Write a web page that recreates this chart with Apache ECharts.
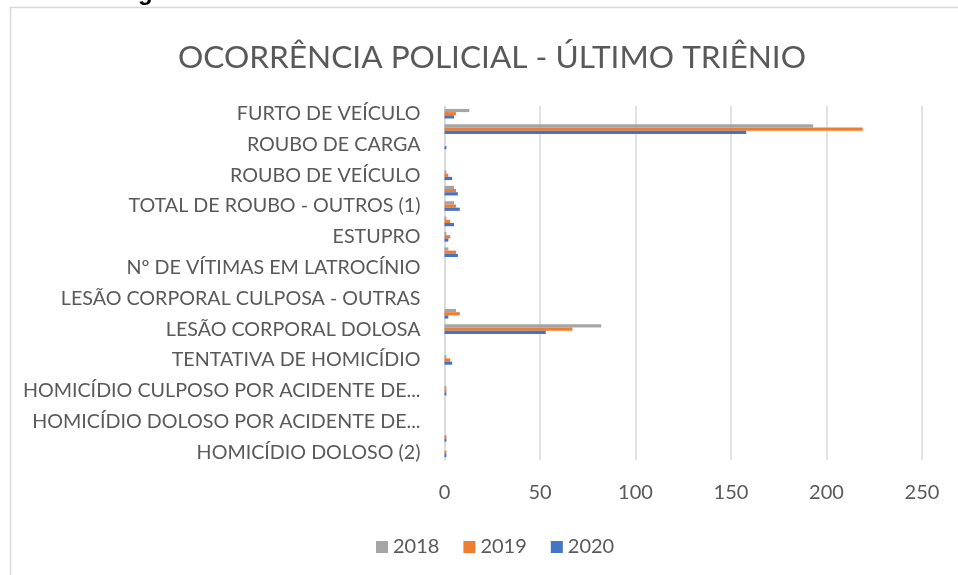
<!DOCTYPE html>
<html><head><meta charset="utf-8">
<script src="https://cdn.jsdelivr.net/npm/echarts@6/dist/echarts.min.js"></script>
<style>html,body{margin:0;padding:0;background:#fff}#c{width:958px;height:575px}</style>
</head><body><div id="c"></div>
<script>
const categories = [
  "HOMICÍDIO DOLOSO (2)",
  "Nº DE VÍTIMAS EM HOMICÍDIO DOLOSO (3)",
  "HOMICÍDIO DOLOSO POR ACIDENTE DE TRÂNSITO",
  "Nº DE VÍTIMAS EM HOMICÍDIO DOLOSO POR ACIDENTE DE TRÂNSITO",
  "HOMICÍDIO CULPOSO POR ACIDENTE DE TRÂNSITO",
  "HOMICÍDIO CULPOSO OUTROS",
  "TENTATIVA DE HOMICÍDIO",
  "LESÃO CORPORAL SEGUIDA DE MORTE",
  "LESÃO CORPORAL DOLOSA",
  "LESÃO CORPORAL CULPOSA POR ACIDENTE DE TRÂNSITO",
  "LESÃO CORPORAL CULPOSA - OUTRAS",
  "LATROCÍNIO",
  "Nº DE VÍTIMAS EM LATROCÍNIO",
  "TOTAL DE ESTUPRO (4)",
  "ESTUPRO",
  "ESTUPRO DE VULNERÁVEL",
  "TOTAL DE ROUBO - OUTROS (1)",
  "ROUBO - OUTROS",
  "ROUBO DE VEÍCULO",
  "ROUBO A BANCO",
  "ROUBO DE CARGA",
  "FURTO - OUTROS",
  "FURTO DE VEÍCULO"
];
const seriesNames = ["2018", "2019", "2020"];
const values2018 = [0,0,0,0,1,0,1,0,82,6,0,0,0,2,1,1,5,5,1,0,0,193,13];
const values2019 = [1,1,0,0,1,0,3,0,67,8,0,0,0,6,3,3,6,6,2,0,0,219,6];
const values2020 = [1,1,0,0,1,0,4,0,53,2,0,0,0,7,2,5,8,7,4,0,1,158,5];
const xTicks = [0, 50, 100, 150, 200, 250];
const titleText = "OCORRÊNCIA POLICIAL - ÚLTIMO TRIÊNIO";

const colors = ["#A5A5A5", "#ED7D31", "#4472C4"];
const FONT = "Lato";
const chart = echarts.init(document.getElementById('c'), null, {renderer: 'canvas'});
const mk = (name, data, i) => ({
  name, type: 'bar', data, barWidth: 3.2, barGap: '0%',
  itemStyle: {color: colors[i]}
});
chart.setOption({
  animation: false,
  color: colors,
  graphic: [
    {type: 'rect', shape: {x: 10.5, y: 7.5, width: 1000, height: 700},
     style: {fill: 'none', stroke: '#d9d9d9', lineWidth: 1.5}, silent: true},
    {type: 'text', left: 138, top: -19,
     style: {text: 'g', fontSize: 24, fontWeight: 'bold', fontFamily: 'Liberation Sans', fill: '#000'}}
  ],
  title: {
    text: titleText, left: 173, top: 37,
    textStyle: {fontFamily: FONT, fontSize: 31.6, fontWeight: 'normal', color: '#595959'}
  },
  legend: {
    data: seriesNames, bottom: 13, left: 371,
    icon: 'rect', itemWidth: 12, itemHeight: 12, itemGap: 24, itemTextGap: 6,
    textStyle: {fontFamily: FONT, fontSize: 20, color: '#595959'}
  },
  grid: {left: 444.5, right: 36, top: 106, bottom: 115, containLabel: false},
  xAxis: {
    type: 'value', min: xTicks[0], max: xTicks[xTicks.length - 1], interval: 50,
    axisLine: {show: false}, axisTick: {show: false},
    splitLine: {lineStyle: {color: '#d9d9d9', width: 1.5}},
    axisLabel: {fontFamily: FONT, fontSize: 20, color: '#595959', margin: 23}
  },
  yAxis: {
    type: 'category', data: categories,
    axisLine: {lineStyle: {color: '#d9d9d9', width: 1.5}},
    axisTick: {show: false},
    axisLabel: {
      interval: 1, fontFamily: FONT, fontSize: 19.7, color: '#595959', margin: 24,
      formatter: v => v.length > 38 ? v.slice(0, 33).trimEnd() + '...' : v
    }
  },
  series: [mk(seriesNames[0], values2018, 0), mk(seriesNames[1], values2019, 1), mk(seriesNames[2], values2020, 2)]
});
</script></body></html>
